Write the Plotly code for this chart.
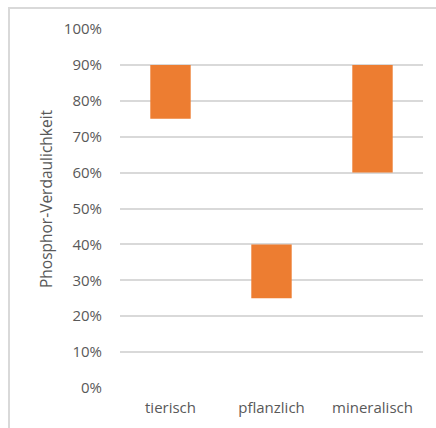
import plotly.graph_objects as go

categories = ["tierisch", "pflanzlich", "mineralisch"]
low_values = [0.75, 0.25, 0.60]
high_values = [0.90, 0.40, 0.90]
y_ticks = [0, 0.1, 0.2, 0.3, 0.4, 0.5, 0.6, 0.7, 0.8, 0.9, 1.0]
y_tick_labels = ["0%", "10%", "20%", "30%", "40%", "50%", "60%", "70%", "80%", "90%", "100%"]
y_title = "Phosphor-Verdaulichkeit"

W, H = 436, 428
ml, mr, mt, mb = 120, 13, 29, 40
pw = W - ml - mr
ph = H - mt - mb

def px_to_paper_x(px):
    return (px - ml) / pw

def px_to_paper_y(py):
    return (H - mb - py) / ph

fig = go.Figure()
fig.add_trace(go.Bar(
    x=categories,
    y=[h - l for h, l in zip(high_values, low_values)],
    base=low_values,
    marker=dict(color="#ED7D31", line=dict(width=0)),
    hoverinfo="skip",
))

font_family = "Open Sans"
txt_color = "#595959"

fig.update_layout(
    width=W, height=H,
    margin=dict(l=ml, r=mr, t=mt, b=mb),
    paper_bgcolor="white",
    plot_bgcolor="white",
    showlegend=False,
    bargap=0.6,
    font=dict(family=font_family, size=15, color=txt_color),
    xaxis=dict(
        showgrid=False, showline=False, zeroline=False,
        ticks="outside", ticklen=6, tickcolor="rgba(0,0,0,0)",
        tickfont=dict(family=font_family, size=15, color=txt_color),
    ),
    yaxis=dict(
        range=[0, 1.0],
        tickvals=y_ticks, ticktext=y_tick_labels,
        showgrid=True, gridcolor="#d9d9d9", gridwidth=1.5,
        zeroline=False, showline=False,
        ticks="outside", ticklen=14, tickcolor="rgba(0,0,0,0)",
        tickfont=dict(family=font_family, size=15, color=txt_color),
    ),
    annotations=[dict(
        text=y_title, textangle=-90,
        xref="paper", yref="paper",
        x=px_to_paper_x(46), y=px_to_paper_y(199),
        xanchor="center", yanchor="middle",
        showarrow=False,
        font=dict(family=font_family, size=15.5, color=txt_color),
    )],
    shapes=[
        dict(type="line", xref="paper", yref="paper",
             x0=px_to_paper_x(9), x1=px_to_paper_x(9),
             y0=px_to_paper_y(8), y1=px_to_paper_y(H + 5),
             line=dict(color="#d9d9d9", width=2)),
        dict(type="line", xref="paper", yref="paper",
             x0=px_to_paper_x(8), x1=px_to_paper_x(W + 5),
             y0=px_to_paper_y(8), y1=px_to_paper_y(8),
             line=dict(color="#d9d9d9", width=2)),
    ],
)

fig.write_html("out.html")
